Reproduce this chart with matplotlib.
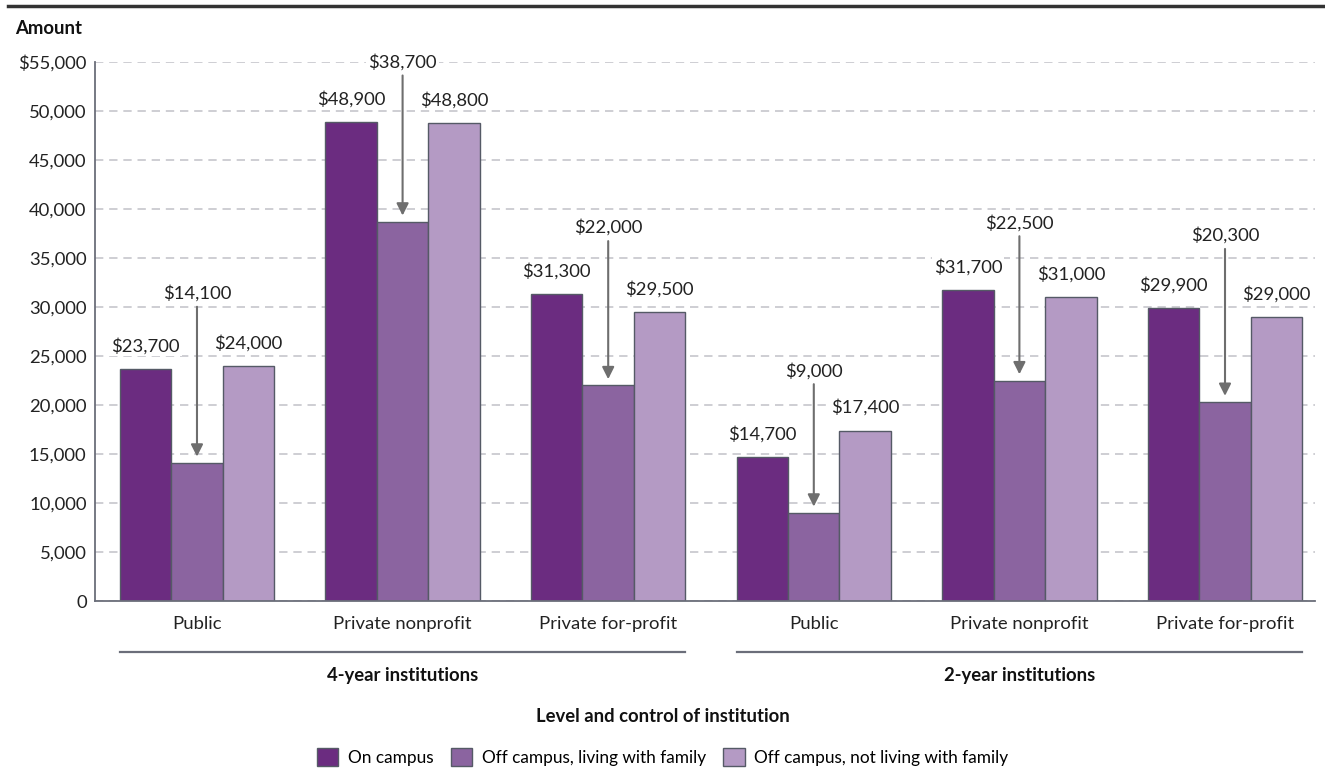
import numpy as np
import matplotlib
matplotlib.use("Agg")
import matplotlib.pyplot as plt
from matplotlib.patches import Patch

plt.rcParams["font.family"] = ["Lato", "DejaVu Sans"]

# data
categories = ["Public", "Private nonprofit", "Private for-profit",
              "Public", "Private nonprofit", "Private for-profit"]
groups = ["4-year institutions", "2-year institutions"]
series_names = ["On campus", "Off campus, living with family",
                "Off campus, not living with family"]
on_campus = [23700, 48900, 31300, 14700, 31700, 29900]
with_family = [14100, 38700, 22000, 9000, 22500, 20300]
not_with_family = [24000, 48800, 29500, 17400, 31000, 29000]
# where the arrowed labels of the middle bars sit
callout_y = [31400, 55000, 38100, 23500, 38600, 37300]
yticks = [0, 5000, 10000, 15000, 20000, 25000, 30000, 35000, 40000, 45000, 50000, 55000]
ytick_labels = ["0", "5,000", "10,000", "15,000", "20,000", "25,000", "30,000",
                "35,000", "40,000", "45,000", "50,000", "$55,000"]

colors = ["#6b2c80", "#8b64a0", "#b49ac4"]
edge = "#555a66"
axis_gray = "#6b6e7a"
fs = 13.3

fig = plt.figure(figsize=(13.25, 7.68), dpi=100)
ax = fig.add_axes([0.0717, 0.2174, 0.9208, 0.7018])

x = np.arange(len(categories))
w = 0.25
all_series = [on_campus, with_family, not_with_family]
for i, vals in enumerate(all_series):
    ax.bar(x + (i - 1) * w, vals, w, color=colors[i], edgecolor=edge,
           linewidth=1.0, zorder=3)

ax.set_xlim(-0.496, 5.438)
ax.set_ylim(0, 55000)
ax.set_yticks(yticks)
ax.set_yticklabels(ytick_labels, fontsize=fs, color="#222222")
ax.set_xticks(x)
ax.set_xticklabels(categories, fontsize=fs, color="#222222")
ax.tick_params(axis="both", length=0, pad=6)
ax.tick_params(axis="x", pad=11)
ax.yaxis.grid(True, color="#c6c6cc", linestyle=(0, (5, 3.5)), linewidth=1.2, zorder=0)
for s in ["top", "right"]:
    ax.spines[s].set_visible(False)
for s in ["left", "bottom"]:
    ax.spines[s].set_color(axis_gray)
    ax.spines[s].set_linewidth(1.3)
    ax.spines[s].set_zorder(4)

box = dict(boxstyle="square,pad=0.12", facecolor="white", edgecolor="none")

# labels on the outer bars
for i in (0, 2):
    for xi, v in zip(x, all_series[i]):
        ax.annotate(f"${v:,}", (xi + (i - 1) * w, v), xytext=(0, 23),
                    textcoords="offset pixels", ha="center", va="center",
                    fontsize=fs, color="#222222", bbox=box, zorder=5,
                    annotation_clip=False)

# arrowed labels on the middle bars
for xi, v, ly in zip(x, with_family, callout_y):
    ax.annotate(f"${v:,}", xy=(xi, v), xytext=(xi, ly),
                ha="center", va="center", fontsize=fs, color="#222222",
                bbox=box, zorder=5, annotation_clip=False,
                arrowprops=dict(arrowstyle="-|>", color="#6e6e6e", lw=1.5,
                                mutation_scale=18, shrinkA=2, shrinkB=4.5))

# group underlines and names
trans = ax.get_xaxis_transform()
for gi, name in enumerate(groups):
    left = x[gi * 3] - 1.5 * w
    right = x[gi * 3 + 2] + 1.5 * w
    ax.plot([left, right], [-0.0946, -0.0946], transform=trans, color=axis_gray,
            lw=1.6, clip_on=False)
    ax.text((left + right) / 2, -0.139, name, transform=trans, ha="center",
            va="center", fontsize=fs, fontweight="bold", color="#111111")

fig.text(0.5, 1 - 717 / 768, "Level and control of institution", ha="center",
         va="center", fontsize=fs, fontweight="bold", color="#111111")
fig.text(15 / 1325, 1 - 28 / 768, "Amount", ha="left", va="center",
         fontsize=fs, fontweight="bold", color="#111111")
fig.add_artist(plt.Line2D([8 / 1325, 1], [1 - 6 / 768, 1 - 6 / 768],
                          color="#333333", lw=2.5))

handles = [Patch(facecolor=c, edgecolor=edge, linewidth=1.0) for c in colors]
fig.legend(handles, series_names, loc="center", bbox_to_anchor=(0.5, 1 - 757 / 768),
           ncol=3, frameon=False, fontsize=12.4, handlelength=1.25, handleheight=1.25,
           handletextpad=0.55, columnspacing=1.0)

fig.savefig("out.png", dpi=100)
